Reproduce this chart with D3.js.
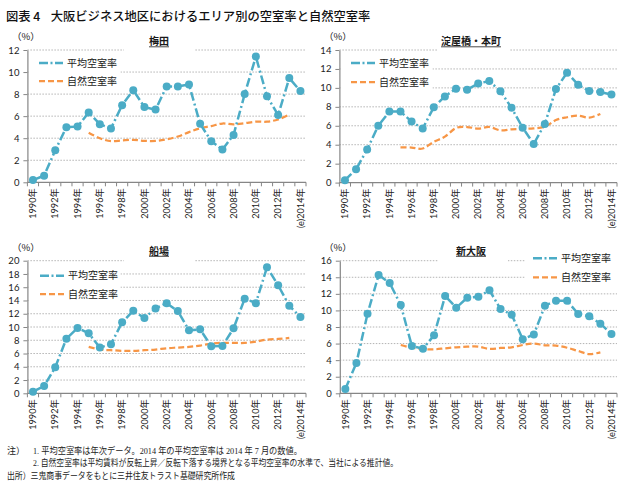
<!DOCTYPE html>
<html><head><meta charset="utf-8">
<script src="https://cdn.jsdelivr.net/npm/d3@7/dist/d3.min.js"></script>
<style>body{margin:0;background:#fff}svg{display:block}</style>
</head><body>
<svg id="chart" width="633" height="489"></svg>
<script>
// ---------------- data ----------------
const categories = ["1990年","1991年","1992年","1993年","1994年","1995年","1996年","1997年","1998年","1999年","2000年","2001年","2002年","2003年","2004年","2005年","2006年","2007年","2008年","2009年","2010年","2011年","2012年","2013年","(e)2014年"];
const labeledCategories = ["1990年","1992年","1994年","1996年","1998年","2000年","2002年","2004年","2006年","2008年","2010年","2012年","(e)2014年"];
const seriesNames = ["平均空室率","自然空室率"];
const areaNames = ["梅田","淀屋橋・本町","船場","新大阪"];

const umedaAvg  = [0.2,0.6,2.9,5.0,5.05,6.33,5.27,4.88,7.0,8.36,6.82,6.6,8.7,8.7,8.88,5.3,3.73,2.97,4.3,8.0,11.4,7.8,6.1,9.45,8.27];
const umedaNat  = [null,null,null,null,null,4.5,4.0,3.73,3.8,3.85,3.76,3.75,3.9,4.15,4.55,4.9,5.1,5.33,5.25,5.36,5.5,5.5,5.7,6.15,null];

const yodoAvg   = [0.25,1.4,3.5,6.0,7.5,7.5,6.44,5.7,7.95,9.1,9.92,9.81,10.45,10.73,9.64,7.91,5.8,4.08,6.19,9.88,11.6,10.34,9.67,9.57,9.29];
const yodoNat   = [null,null,null,null,null,3.73,3.7,3.6,4.3,4.85,5.77,5.87,5.7,5.87,5.52,5.63,5.66,5.73,5.9,6.6,6.9,7.07,6.86,7.25,null];

const sembaAvg  = [0.25,1.1,3.92,8.24,9.85,9.05,6.9,7.4,10.7,12.46,11.36,12.8,13.6,12.4,9.5,9.65,7.09,7.14,9.8,14.27,13.6,19.0,16.3,13.2,11.5];
const sembaNat  = [null,null,null,null,null,7.0,6.6,6.5,6.4,6.4,6.5,6.6,6.8,6.9,7.0,7.2,7.5,7.6,7.6,7.6,7.8,8.1,8.2,8.35,null];

const shinAvg   = [0.52,3.66,9.6,14.27,13.3,10.65,5.7,5.39,7.0,11.74,10.33,11.54,11.66,12.42,10.17,9.49,6.51,7.1,10.57,11.17,11.17,9.57,9.29,8.4,7.16];
const shinNat   = [null,null,null,null,null,5.83,5.5,5.35,5.3,5.43,5.55,5.63,5.63,5.35,5.47,5.55,5.83,6.0,5.79,5.75,5.5,5.1,4.74,4.94,null];

const yTicksUmeda = [0,2,4,6,8,10,12];
const yTicksYodo  = [0,2,4,6,8,10,12,14];
const yTicksSemba = [0,2,4,6,8,10,12,14,16,18,20];
const yTicksShin  = [0,2,4,6,8,10,12,14,16];

const titleText = ["図表 4", "大阪ビジネス地区におけるエリア別の空室率と自然空室率"];
const notes = [
  "注）",
  "1. 平均空室率は年次データ。2014 年の平均空室率は 2014 年 7 月の数値。",
  "2. 自然空室率は平均賃料が反転上昇／反転下落する境界となる平均空室率の水準で、当社による推計値。",
  "出所）三鬼商事データをもとに三井住友トラスト基礎研究所作成"
];

// ---------------- layout ----------------
const BLUE = "#4BACC6", ORANGE = "#F79646";
const CJK = "'Noto Sans CJK JP', sans-serif";
const TICKF = "Lato, 'Noto Sans CJK JP', sans-serif";

const panels = [
  {name: areaNames[0], avg: umedaAvg, nat: umedaNat, ticks: yTicksUmeda,
   left: 27.4, right: 306, top: 50, bottom: 182.3,
   titleX: 159, titleY: 45, titleBox: [124, 34, 70, 19],
   pctX: 12, pctY: 40,
   legX: 39, legY: [63, 81], legBox: [28.5, 54, 92, 36]},
  {name: areaNames[1], avg: yodoAvg, nat: yodoNat, ticks: yTicksYodo,
   left: 339.4, right: 617, top: 50, bottom: 182.6,
   titleX: 471, titleY: 45, titleBox: [438, 34, 72, 19],
   pctX: 324, pctY: 40,
   legX: 351, legY: [63, 82], legBox: [340.5, 54, 92, 36]},
  {name: areaNames[2], avg: sembaAvg, nat: sembaNat, ticks: yTicksSemba,
   left: 27.4, right: 306, top: 260.7, bottom: 393.3,
   titleX: 159, titleY: 254.5, titleBox: [124, 244, 70, 19],
   pctX: 12, pctY: 251,
   legX: 40, legY: [275.7, 294], legBox: [28.5, 266, 92, 37]},
  {name: areaNames[3], avg: shinAvg, nat: shinNat, ticks: yTicksShin,
   left: 339.8, right: 617, top: 260.7, bottom: 393.3,
   titleX: 471, titleY: 254.5, titleBox: [438, 244, 70, 19],
   pctX: 324, pctY: 251,
   legX: 533, legY: [258.3, 277.3], legBox: [525, 249, 92, 37]}
];

const svg = d3.select("#chart");
svg.append("rect").attr("width",633).attr("height",489).attr("fill","#fff");

// main title
const tt = svg.append("text").attr("y", 21).attr("font-family", CJK)
  .attr("font-size", 12.3).attr("font-weight", 500).attr("fill", "#111");
tt.append("tspan").attr("x", 6).text(titleText[0]);
tt.append("tspan").attr("x", 50.7).text(titleText[1]);

panels.forEach(p => {
  const g = svg.append("g");
  const x = d3.scaleBand().domain(categories).range([p.left, p.right]);
  const y = d3.scaleLinear().domain([0, d3.max(p.ticks)]).range([p.bottom, p.top]);
  const bw = x.bandwidth();
  const cx = c => x(c) + bw / 2;

  // grid
  g.selectAll(".grid").data(p.ticks.filter(t => t > 0)).join("line")
    .attr("x1", p.left).attr("x2", p.right)
    .attr("y1", d => y(d)).attr("y2", d => y(d))
    .attr("stroke", "#b4b4b4").attr("stroke-width", 1)
    .attr("stroke-dasharray", "1.5,1.5");

  // title & legend background boxes (hide grid)
  g.append("rect").attr("x", p.titleBox[0]).attr("y", p.titleBox[1])
    .attr("width", p.titleBox[2]).attr("height", p.titleBox[3]).attr("fill", "#fff");
  g.append("rect").attr("x", p.legBox[0]).attr("y", p.legBox[1])
    .attr("width", p.legBox[2]).attr("height", p.legBox[3]).attr("fill", "#fff");

  // y axis
  const ya = g.append("g").attr("transform", `translate(${p.left},0)`)
    .call(d3.axisLeft(y).tickValues(p.ticks).tickSize(4).tickSizeOuter(0).tickPadding(4));
  ya.select(".domain").attr("stroke", "#868686").attr("stroke-width", 1.2);
  ya.selectAll(".tick line").attr("stroke", "#868686");
  ya.selectAll(".tick text").attr("font-family", TICKF).attr("font-size", 9.5).attr("fill", "#222");

  // x axis
  g.append("line").attr("x1", p.left).attr("x2", p.right)
    .attr("y1", p.bottom).attr("y2", p.bottom).attr("stroke", "#868686").attr("stroke-width", 1.2);
  const bounds = categories.map(c => x(c)).concat([p.right]);
  g.selectAll(".xt").data(bounds).join("line")
    .attr("x1", d => d).attr("x2", d => d)
    .attr("y1", p.bottom).attr("y2", p.bottom + 4)
    .attr("stroke", "#868686");
  g.selectAll(".xl").data(labeledCategories).join("text")
    .attr("transform", d => `translate(${cx(d)},${p.bottom + 6}) rotate(-90)`)
    .attr("text-anchor", "end").attr("dy", "0.35em")
    .attr("font-family", TICKF).attr("font-size", 9.2).attr("fill", "#222")
    .text(d => d);

  // natural vacancy (smoothed dashed)
  const natPts = categories.map((c, i) => [cx(c), p.nat[i]]).filter(d => d[1] != null);
  g.append("path")
    .attr("d", d3.line().x(d => d[0]).y(d => y(d[1])).curve(d3.curveCardinal.tension(0))(natPts))
    .attr("fill", "none").attr("stroke", ORANGE).attr("stroke-width", 2.25)
    .attr("stroke-dasharray", "6,3");

  // average vacancy
  const avgPts = categories.map((c, i) => [cx(c), p.avg[i]]);
  g.append("path")
    .attr("d", d3.line().x(d => d[0]).y(d => y(d[1]))(avgPts))
    .attr("fill", "none").attr("stroke", BLUE).attr("stroke-width", 2.5)
    .attr("stroke-dasharray", "9,3,2,3");
  g.selectAll(".mk").data(avgPts).join("circle")
    .attr("cx", d => d[0]).attr("cy", d => y(d[1])).attr("r", 4)
    .attr("fill", BLUE);

  // panel title
  const t = g.append("text").attr("x", p.titleX).attr("y", p.titleY)
    .attr("text-anchor", "middle").attr("font-family", CJK).attr("font-weight", "bold")
    .attr("font-size", 10).attr("fill", "#1a1a1a").text(p.name);
  const tw = t.node().getComputedTextLength();
  g.append("line").attr("x1", p.titleX - tw / 2).attr("x2", p.titleX + tw / 2)
    .attr("y1", p.titleY + 1.8).attr("y2", p.titleY + 1.8)
    .attr("stroke", "#1a1a1a").attr("stroke-width", 0.8);

  // (%)
  g.append("text").attr("x", p.pctX).attr("y", p.pctY)
    .attr("font-family", CJK).attr("font-size", 9.5).attr("fill", "#222").text("（%）");

  // legend
  const lg = g.append("g");
  lg.append("line").attr("x1", p.legX).attr("x2", p.legX + 24)
    .attr("y1", p.legY[0]).attr("y2", p.legY[0])
    .attr("stroke", BLUE).attr("stroke-width", 2.5).attr("stroke-dasharray", "9,2.5,2,2.5");
  lg.append("line").attr("x1", p.legX).attr("x2", p.legX + 24)
    .attr("y1", p.legY[1]).attr("y2", p.legY[1])
    .attr("stroke", ORANGE).attr("stroke-width", 2.25).attr("stroke-dasharray", "6,3");
  seriesNames.forEach((s, i) => {
    lg.append("text").attr("x", p.legX + 28).attr("y", p.legY[i]).attr("dy", "0.36em")
      .attr("font-family", CJK).attr("font-size", 10).attr("fill", "#1a1a1a").text(s);
  });
});

// footnotes
const nf = svg.append("g").attr("font-family", "'Liberation Serif', 'Noto Sans CJK JP', serif")
  .attr("font-size", 9).attr("fill", "#222");
nf.append("text").attr("x", 7).attr("y", 453.5).text(notes[0]);
nf.append("text").attr("x", 33).attr("y", 453.5).attr("textLength", 269).attr("lengthAdjust", "spacingAndGlyphs").text(notes[1]);
nf.append("text").attr("x", 33).attr("y", 466).attr("textLength", 365).attr("lengthAdjust", "spacingAndGlyphs").text(notes[2]);
nf.append("text").attr("x", 7).attr("y", 478.5).attr("textLength", 228).attr("lengthAdjust", "spacingAndGlyphs").text(notes[3]);
</script>
</body></html>
